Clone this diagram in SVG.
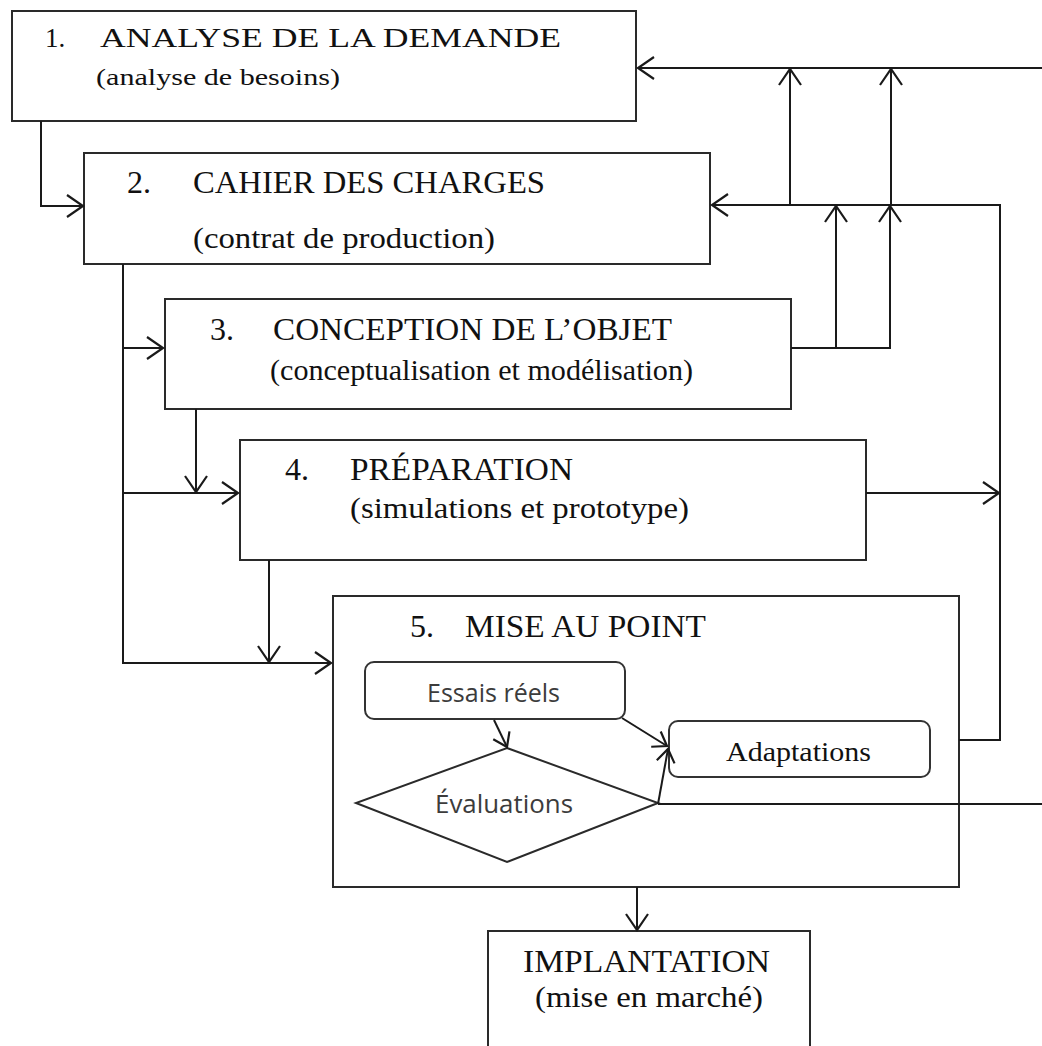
<svg xmlns="http://www.w3.org/2000/svg" width="1042" height="1046" viewBox="0 0 1042 1046">
  <style>
    .box { fill: #fff; stroke: #2a2a2a; stroke-width: 2; }
    .rbox { fill: #fff; stroke: #333; stroke-width: 2; }
    .wire { fill: none; stroke: #1a1a1a; stroke-width: 2; }
    .t { font-family: "Liberation Serif", "Times New Roman", serif; fill: #111; }
    .ttl { font-size: 32px; }
    .sub { font-size: 29px; }
    .s { font-family: "Open Sans", "Liberation Sans", sans-serif; fill: #3c3c3c; font-size: 25px; }
  </style>
  <defs>
    <marker id="arr" viewBox="-20 -14 24 28" refX="0" refY="0" markerWidth="24" markerHeight="28" markerUnits="userSpaceOnUse" orient="auto">
      <path d="M-16,-11 L0,0 L-16,11" fill="none" stroke="#1a1a1a" stroke-width="2.2"/>
    </marker>
    <marker id="arr-s" viewBox="-16 -12 20 24" refX="0" refY="0" markerWidth="20" markerHeight="24" markerUnits="userSpaceOnUse" orient="auto">
      <path d="M-13,-9 L0,0 L-13,9" fill="none" stroke="#1a1a1a" stroke-width="2.2"/>
    </marker>
  </defs>

  <g id="n1">
    <rect class="box" x="12" y="11" width="624" height="110"/>
    <text class="t" x="45" y="47" font-size="27">1.</text>
    <text class="t" x="100" y="47" font-size="27" textLength="461" lengthAdjust="spacingAndGlyphs">ANALYSE DE LA DEMANDE</text>
    <text class="t" x="96" y="85" font-size="24" textLength="244" lengthAdjust="spacingAndGlyphs">(analyse de besoins)</text>
  </g>

  <g id="n2">
    <rect class="box" x="84" y="153" width="626" height="111"/>
    <text class="t ttl" x="127" y="193">2.</text>
    <text class="t ttl" x="193" y="193" textLength="352" lengthAdjust="spacingAndGlyphs">CAHIER DES CHARGES</text>
    <text class="t sub" x="193" y="248" textLength="302" lengthAdjust="spacingAndGlyphs">(contrat de production)</text>
  </g>

  <g id="n3">
    <rect class="box" x="165" y="299" width="626" height="110"/>
    <text class="t ttl" x="210" y="340">3.</text>
    <text class="t ttl" x="273" y="340" textLength="399" lengthAdjust="spacingAndGlyphs">CONCEPTION DE L’OBJET</text>
    <text class="t sub" x="270" y="380" textLength="423" lengthAdjust="spacingAndGlyphs">(conceptualisation et modélisation)</text>
  </g>

  <g id="n4">
    <rect class="box" x="240" y="440" width="626" height="120"/>
    <text class="t ttl" x="285" y="480">4.</text>
    <text class="t ttl" x="350" y="480" textLength="223" lengthAdjust="spacingAndGlyphs">PRÉPARATION</text>
    <text class="t sub" x="350" y="518" textLength="339" lengthAdjust="spacingAndGlyphs">(simulations et prototype)</text>
  </g>

  <g id="n5">
    <rect class="box" x="333" y="596" width="626" height="291"/>
    <text class="t ttl" x="410" y="637">5.</text>
    <text class="t ttl" x="465" y="637" textLength="241" lengthAdjust="spacingAndGlyphs">MISE AU POINT</text>
  </g>

  <g id="n5a">
    <rect class="rbox" x="365" y="662" width="260" height="57" rx="9"/>
    <text class="s" x="427" y="702" textLength="133" lengthAdjust="spacingAndGlyphs">Essais réels</text>
  </g>

  <g id="n5b">
    <polygon class="box" points="507,748 658,803 507,862 356,803"/>
    <text class="s" x="435" y="813" textLength="138" lengthAdjust="spacingAndGlyphs">Évaluations</text>
  </g>

  <g id="n5c">
    <rect class="rbox" x="669" y="721" width="261" height="56" rx="9"/>
    <text class="t" x="726" y="761" font-size="27" textLength="145" lengthAdjust="spacingAndGlyphs">Adaptations</text>
  </g>

  <g id="n6">
    <path class="box" d="M488,1046 V931 H810 V1046"/>
    <text class="t ttl" x="523" y="972" textLength="247" lengthAdjust="spacingAndGlyphs">IMPLANTATION</text>
    <text class="t sub" x="535" y="1007" textLength="228" lengthAdjust="spacingAndGlyphs">(mise en marché)</text>
  </g>

  <!-- connectors, drawn over the boxes -->
  <g id="connectors">
    <path class="wire" d="M1042,68 H638" marker-end="url(#arr)"/>
    <path class="wire" d="M790,205 V69" marker-end="url(#arr)"/>
    <path class="wire" d="M891,205 V69" marker-end="url(#arr)"/>
    <path class="wire" d="M41,121 V206 H83" marker-end="url(#arr)"/>
    <path class="wire" d="M959,740 H1000 V205 H712" marker-end="url(#arr)"/>
    <path class="wire" d="M791,348 H890 V206" marker-end="url(#arr)"/>
    <path class="wire" d="M836,348 V206" marker-end="url(#arr)"/>
    <path class="wire" d="M123,264 V663 H331" marker-end="url(#arr)"/>
    <path class="wire" d="M123,348 H163" marker-end="url(#arr)"/>
    <path class="wire" d="M123,493 H238" marker-end="url(#arr)"/>
    <path class="wire" d="M196,409 V492" marker-end="url(#arr)"/>
    <path class="wire" d="M269,560 V662" marker-end="url(#arr)"/>
    <path class="wire" d="M866,493 H999" marker-end="url(#arr)"/>
    <path class="wire" d="M637,887 V930" marker-end="url(#arr)"/>
    <path class="wire" d="M494,720 L507,747" marker-end="url(#arr-s)"/>
    <path class="wire" d="M622,718 L667,746" marker-end="url(#arr-s)"/>
    <path class="wire" d="M658,804 L668,749" marker-end="url(#arr-s)"/>
    <path class="wire" d="M658,804 H1042"/>
  </g>
</svg>
